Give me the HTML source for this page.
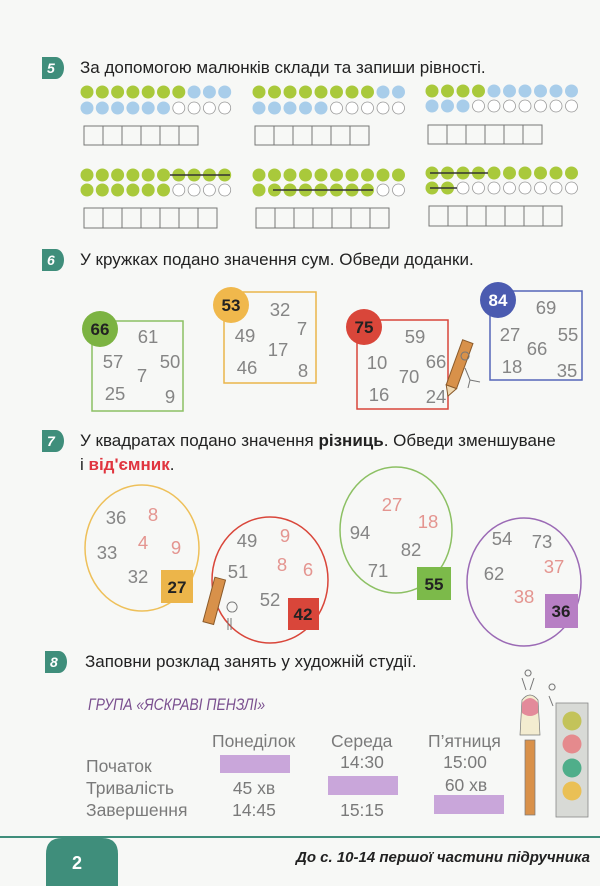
<!DOCTYPE html>
<html><head><meta charset="utf-8"><style>
html,body{margin:0;padding:0;background:#f7f8f6;}
svg{display:block;}
text{font-family:"Liberation Sans",sans-serif;}
.n{font-size:18.5px;fill:#858585;}
.r{font-size:18.5px;fill:#e49590;}
.t{font-size:17px;fill:#222;}
.v{font-size:17.5px;fill:#7a7a7a;}
</style></head><body>
<svg width="600" height="886" viewBox="0 0 600 886" xmlns="http://www.w3.org/2000/svg">
<rect width="600" height="886" fill="#f7f8f6"/>
<g fill="#3f8e7b">
<path d="M42 57h14a8 11 0 0 1 0 22h-14z"/>
<path d="M42 249h14a8 11 0 0 1 0 22h-14z"/>
<path d="M42 430h14a8 11 0 0 1 0 22h-14z"/>
<path d="M45 651h14a8 11 0 0 1 0 22h-14z"/>
</g>
<g fill="#fff" font-size="14" font-style="italic" font-weight="bold">
<text x="47" y="73">5</text><text x="47" y="265">6</text><text x="47" y="446">7</text><text x="50" y="667">8</text>
</g>
<text class="t" x="80" y="73">За допомогою малюнків склади та запиши рівності.</text>
<text class="t" x="80" y="265">У кружках подано значення сум. Обведи доданки.</text>
<text class="t" x="80" y="446">У квадратах подано значення <tspan font-weight="bold">різниць</tspan>. Обведи зменшуване</text>
<text class="t" x="80" y="470">і <tspan font-weight="bold" fill="#e0353f">від'ємник</tspan>.</text>
<text class="t" x="85" y="667">Заповни розклад занять у художній студії.</text>

<g fill="none" stroke="#777" stroke-width="1">
<path d="M84 126h114v19h-114z M103 126v19 M122 126v19 M141 126v19 M160 126v19 M179 126v19"/>
<path d="M255 126h114v19h-114z M274 126v19 M293 126v19 M312 126v19 M331 126v19 M350 126v19"/>
<path d="M428 125h114v19h-114z M447 125v19 M466 125v19 M485 125v19 M504 125v19 M523 125v19"/>
<path d="M84 208h133v20h-133z M103 208v20 M122 208v20 M141 208v20 M160 208v20 M179 208v20 M198 208v20"/>
<path d="M256 208h133v20h-133z M275 208v20 M294 208v20 M313 208v20 M332 208v20 M351 208v20 M370 208v20"/>
<path d="M429 206h133v20h-133z M448 206v20 M467 206v20 M486 206v20 M505 206v20 M524 206v20 M543 206v20"/>
</g>

<g fill="none" stroke-width="1.5">
<rect x="92" y="321" width="91" height="90" stroke="#8cc063"/>
<rect x="224" y="292" width="92" height="91" stroke="#eab54a"/>
<rect x="357" y="320" width="91" height="89" stroke="#d9463a"/>
<rect x="490" y="291" width="92" height="89" stroke="#5566b8"/>
</g>
<circle cx="100" cy="329" r="18" fill="#7cb342"/>
<circle cx="231" cy="305" r="18" fill="#f0b84c"/>
<circle cx="364" cy="327" r="18" fill="#d9463a"/>
<circle cx="498" cy="300" r="18" fill="#4b5bb0"/>
<g font-size="17" font-weight="bold" text-anchor="middle">
<text x="100" y="335" fill="#222">66</text><text x="231" y="311" fill="#222">53</text>
<text x="364" y="333" fill="#222">75</text><text x="498" y="306" fill="#fff">84</text>
</g>
<g text-anchor="middle">
<text x="148" y="343" class="n">61</text><text x="113" y="368" class="n">57</text><text x="170" y="368" class="n">50</text><text x="142" y="382" class="n">7</text><text x="115" y="400" class="n">25</text><text x="170" y="403" class="n">9</text>
<text x="280" y="316" class="n">32</text><text x="302" y="335" class="n">7</text><text x="245" y="342" class="n">49</text><text x="278" y="356" class="n">17</text><text x="247" y="374" class="n">46</text><text x="303" y="377" class="n">8</text>
<text x="415" y="343" class="n">59</text><text x="377" y="369" class="n">10</text><text x="436" y="368" class="n">66</text><text x="409" y="383" class="n">70</text><text x="379" y="401" class="n">16</text><text x="436" y="403" class="n">24</text>
<text x="546" y="314" class="n">69</text><text x="510" y="341" class="n">27</text><text x="568" y="341" class="n">55</text><text x="537" y="355" class="n">66</text><text x="512" y="373" class="n">18</text><text x="567" y="377" class="n">35</text>
</g>
<g transform="rotate(20 458 370)"><rect x="452" y="340" width="11" height="48" fill="#d8914a" stroke="#8a5a2a"/><path d="M452 388l5.5 10l5.5-10z" fill="#f0d8b0" stroke="#8a5a2a"/></g>
<path d="M465 360a4 4 0 1 1 0.1 0 M465 368l5 12l10 2 M470 380l-2 8" fill="none" stroke="#777"/>

<g fill="none" stroke-width="1.5">
<ellipse cx="142" cy="548" rx="57" ry="63" stroke="#eec05a"/>
<ellipse cx="270" cy="580" rx="58" ry="63" stroke="#d9463a"/>
<ellipse cx="396" cy="530" rx="56" ry="63" stroke="#8cc063"/>
<ellipse cx="524" cy="582" rx="57" ry="64" stroke="#9b6ab5"/>
</g>
<rect x="161" y="570" width="32" height="33" fill="#ecb54a"/>
<rect x="288" y="598" width="31" height="32" fill="#d9463a"/>
<rect x="417" y="567" width="34" height="33" fill="#7cba4a"/>
<rect x="545" y="594" width="33" height="34" fill="#b77fc4"/>
<g font-size="17" font-weight="bold" text-anchor="middle" fill="#222">
<text x="177" y="593">27</text><text x="303" y="620">42</text><text x="434" y="590">55</text><text x="561" y="617">36</text>
</g>
<g text-anchor="middle">
<text x="116" y="524" class="n">36</text><text x="153" y="521" class="r">8</text><text x="107" y="559" class="n">33</text><text x="143" y="549" class="r">4</text><text x="176" y="554" class="r">9</text><text x="138" y="583" class="n">32</text>
<text x="247" y="547" class="n">49</text><text x="285" y="542" class="r">9</text><text x="238" y="578" class="n">51</text><text x="282" y="571" class="r">8</text><text x="308" y="576" class="r">6</text><text x="270" y="606" class="n">52</text>
<text x="392" y="511" class="r">27</text><text x="428" y="528" class="r">18</text><text x="360" y="539" class="n">94</text><text x="411" y="556" class="n">82</text><text x="378" y="577" class="n">71</text>
<text x="502" y="545" class="n">54</text><text x="542" y="548" class="n">73</text><text x="494" y="580" class="n">62</text><text x="554" y="573" class="r">37</text><text x="524" y="603" class="r">38</text>
</g>
<g transform="rotate(15 215 600)"><rect x="209" y="578" width="11" height="46" fill="#d8914a" stroke="#8a5a2a"/></g>
<path d="M232 612a5 5 0 1 1 0.1 0 M231 618v12 M228 630v-12" fill="none" stroke="#777"/>

<text x="88" y="710" font-size="17" font-style="italic" fill="#7a4f8f" transform="translate(88 0) scale(0.82 1) translate(-88 0)">ГРУПА «ЯСКРАВІ ПЕНЗЛІ»</text>
<g>
<text x="212" y="747" class="v">Понеділок</text><text x="331" y="747" class="v">Середа</text><text x="428" y="747" class="v">П’ятниця</text>
<text x="86" y="772" class="v">Початок</text><text x="86" y="794" class="v">Тривалість</text><text x="86" y="816" class="v">Завершення</text>
</g>
<g text-anchor="middle">
<text x="362" y="768" class="v">14:30</text><text x="465" y="768" class="v">15:00</text>
<text x="254" y="794" class="v">45 хв</text><text x="466" y="791" class="v">60 хв</text>
<text x="254" y="816" class="v">14:45</text><text x="362" y="816" class="v">15:15</text>
</g>
<g fill="#c9a6da">
<rect x="220" y="755" width="70" height="18"/>
<rect x="328" y="776" width="70" height="19"/>
<rect x="434" y="795" width="70" height="19"/>
</g>
<rect x="525" y="740" width="10" height="75" fill="#d9914a" stroke="#777" stroke-width="0.7"/>
<path d="M522 700q8-10 16 0l2 35h-20z" fill="#f3ecd0" stroke="#777" stroke-width="0.7"/>
<path d="M522 703q8-10 16 0v10q-8 6-16 0z" fill="#e38a9a"/>
<rect x="556" y="703" width="32" height="114" fill="#d8dad6" stroke="#888" stroke-width="0.8"/>
<circle cx="572" cy="721" r="9.5" fill="#c3c35a"/>
<circle cx="572" cy="744" r="9.5" fill="#e58a8d"/>
<circle cx="572" cy="768" r="9.5" fill="#4fae8a"/>
<circle cx="572" cy="791" r="9.5" fill="#eac055"/>
<path d="M526 690l-4-12 M530 690l4-12 M528 676a3 3 0 1 1 .1 0 M553 706l-4-10 M552 690a3 3 0 1 1 .1 0" fill="none" stroke="#777"/>

<line x1="0" y1="837" x2="600" y2="837" stroke="#3f8e7b" stroke-width="2"/>
<path d="M46 886v-32q0-16 16-16h40q16 0 16 16v32z" fill="#3f8e7b"/>
<text x="72" y="869" font-size="18" font-weight="bold" fill="#fff">2</text>
<text x="590" y="862" font-size="15" font-style="italic" font-weight="bold" fill="#222" text-anchor="end">До с. 10-14 першої частини підручника</text>

<g stroke-width="0.8">
<g fill="#a9c93b"><circle cx="87" cy="92" r="6.5"/><circle cx="102.3" cy="92" r="6.5"/><circle cx="117.6" cy="92" r="6.5"/><circle cx="132.9" cy="92" r="6.5"/><circle cx="148.2" cy="92" r="6.5"/><circle cx="163.5" cy="92" r="6.5"/><circle cx="178.8" cy="92" r="6.5"/></g>
<g fill="#a8cdea"><circle cx="194.1" cy="92" r="6.5"/><circle cx="209.4" cy="92" r="6.5"/><circle cx="224.7" cy="92" r="6.5"/>
<circle cx="87" cy="108" r="6.5"/><circle cx="102.3" cy="108" r="6.5"/><circle cx="117.6" cy="108" r="6.5"/><circle cx="132.9" cy="108" r="6.5"/><circle cx="148.2" cy="108" r="6.5"/><circle cx="163.5" cy="108" r="6.5"/></g>
<g fill="#fff" stroke="#999"><circle cx="178.8" cy="108" r="6"/><circle cx="194.1" cy="108" r="6"/><circle cx="209.4" cy="108" r="6"/><circle cx="224.7" cy="108" r="6"/></g>
<g fill="#a9c93b"><circle cx="259" cy="92" r="6.5"/><circle cx="274.5" cy="92" r="6.5"/><circle cx="290" cy="92" r="6.5"/><circle cx="305.5" cy="92" r="6.5"/><circle cx="321" cy="92" r="6.5"/><circle cx="336.5" cy="92" r="6.5"/><circle cx="352" cy="92" r="6.5"/><circle cx="367.5" cy="92" r="6.5"/></g>
<g fill="#a8cdea"><circle cx="383" cy="92" r="6.5"/><circle cx="398.5" cy="92" r="6.5"/>
<circle cx="259" cy="108" r="6.5"/><circle cx="274.5" cy="108" r="6.5"/><circle cx="290" cy="108" r="6.5"/><circle cx="305.5" cy="108" r="6.5"/><circle cx="321" cy="108" r="6.5"/></g>
<g fill="#fff" stroke="#999"><circle cx="336.5" cy="108" r="6"/><circle cx="352" cy="108" r="6"/><circle cx="367.5" cy="108" r="6"/><circle cx="383" cy="108" r="6"/><circle cx="398.5" cy="108" r="6"/></g>
<g fill="#a9c93b"><circle cx="432" cy="91" r="6.5"/><circle cx="447.5" cy="91" r="6.5"/><circle cx="463" cy="91" r="6.5"/><circle cx="478.5" cy="91" r="6.5"/></g>
<g fill="#a8cdea"><circle cx="494" cy="91" r="6.5"/><circle cx="509.5" cy="91" r="6.5"/><circle cx="525" cy="91" r="6.5"/><circle cx="540.5" cy="91" r="6.5"/><circle cx="556" cy="91" r="6.5"/><circle cx="571.5" cy="91" r="6.5"/>
<circle cx="432" cy="106" r="6.5"/><circle cx="447.5" cy="106" r="6.5"/><circle cx="463" cy="106" r="6.5"/></g>
<g fill="#fff" stroke="#999"><circle cx="478.5" cy="106" r="6"/><circle cx="494" cy="106" r="6"/><circle cx="509.5" cy="106" r="6"/><circle cx="525" cy="106" r="6"/><circle cx="540.5" cy="106" r="6"/><circle cx="556" cy="106" r="6"/><circle cx="571.5" cy="106" r="6"/></g>
<g fill="#a9c93b">
<circle cx="87" cy="175" r="6.5"/><circle cx="102.3" cy="175" r="6.5"/><circle cx="117.6" cy="175" r="6.5"/><circle cx="132.9" cy="175" r="6.5"/><circle cx="148.2" cy="175" r="6.5"/><circle cx="163.5" cy="175" r="6.5"/><circle cx="178.8" cy="175" r="6.5"/><circle cx="194.1" cy="175" r="6.5"/><circle cx="209.4" cy="175" r="6.5"/><circle cx="224.7" cy="175" r="6.5"/>
<circle cx="87" cy="190" r="6.5"/><circle cx="102.3" cy="190" r="6.5"/><circle cx="117.6" cy="190" r="6.5"/><circle cx="132.9" cy="190" r="6.5"/><circle cx="148.2" cy="190" r="6.5"/><circle cx="163.5" cy="190" r="6.5"/>
<circle cx="259" cy="175" r="6.5"/><circle cx="274.5" cy="175" r="6.5"/><circle cx="290" cy="175" r="6.5"/><circle cx="305.5" cy="175" r="6.5"/><circle cx="321" cy="175" r="6.5"/><circle cx="336.5" cy="175" r="6.5"/><circle cx="352" cy="175" r="6.5"/><circle cx="367.5" cy="175" r="6.5"/><circle cx="383" cy="175" r="6.5"/><circle cx="398.5" cy="175" r="6.5"/>
<circle cx="259" cy="190" r="6.5"/><circle cx="274.5" cy="190" r="6.5"/><circle cx="290" cy="190" r="6.5"/><circle cx="305.5" cy="190" r="6.5"/><circle cx="321" cy="190" r="6.5"/><circle cx="336.5" cy="190" r="6.5"/><circle cx="352" cy="190" r="6.5"/><circle cx="367.5" cy="190" r="6.5"/>
<circle cx="432" cy="173" r="6.5"/><circle cx="447.5" cy="173" r="6.5"/><circle cx="463" cy="173" r="6.5"/><circle cx="478.5" cy="173" r="6.5"/><circle cx="494" cy="173" r="6.5"/><circle cx="509.5" cy="173" r="6.5"/><circle cx="525" cy="173" r="6.5"/><circle cx="540.5" cy="173" r="6.5"/><circle cx="556" cy="173" r="6.5"/><circle cx="571.5" cy="173" r="6.5"/>
<circle cx="432" cy="188" r="6.5"/><circle cx="447.5" cy="188" r="6.5"/>
</g>
<g fill="#fff" stroke="#999">
<circle cx="178.8" cy="190" r="6"/><circle cx="194.1" cy="190" r="6"/><circle cx="209.4" cy="190" r="6"/><circle cx="224.7" cy="190" r="6"/>
<circle cx="383" cy="190" r="6"/><circle cx="398.5" cy="190" r="6"/>
<circle cx="463" cy="188" r="6"/><circle cx="478.5" cy="188" r="6"/><circle cx="494" cy="188" r="6"/><circle cx="509.5" cy="188" r="6"/><circle cx="525" cy="188" r="6"/><circle cx="540.5" cy="188" r="6"/><circle cx="556" cy="188" r="6"/><circle cx="571.5" cy="188" r="6"/>
</g>
<g stroke="#333" stroke-width="1.5">
<line x1="170" y1="175" x2="230" y2="175"/>
<line x1="273" y1="190" x2="373" y2="190"/>
<line x1="430" y1="173" x2="488" y2="173"/>
<line x1="430" y1="188" x2="457" y2="188"/>
</g>
</g>
</svg>
</body></html>
